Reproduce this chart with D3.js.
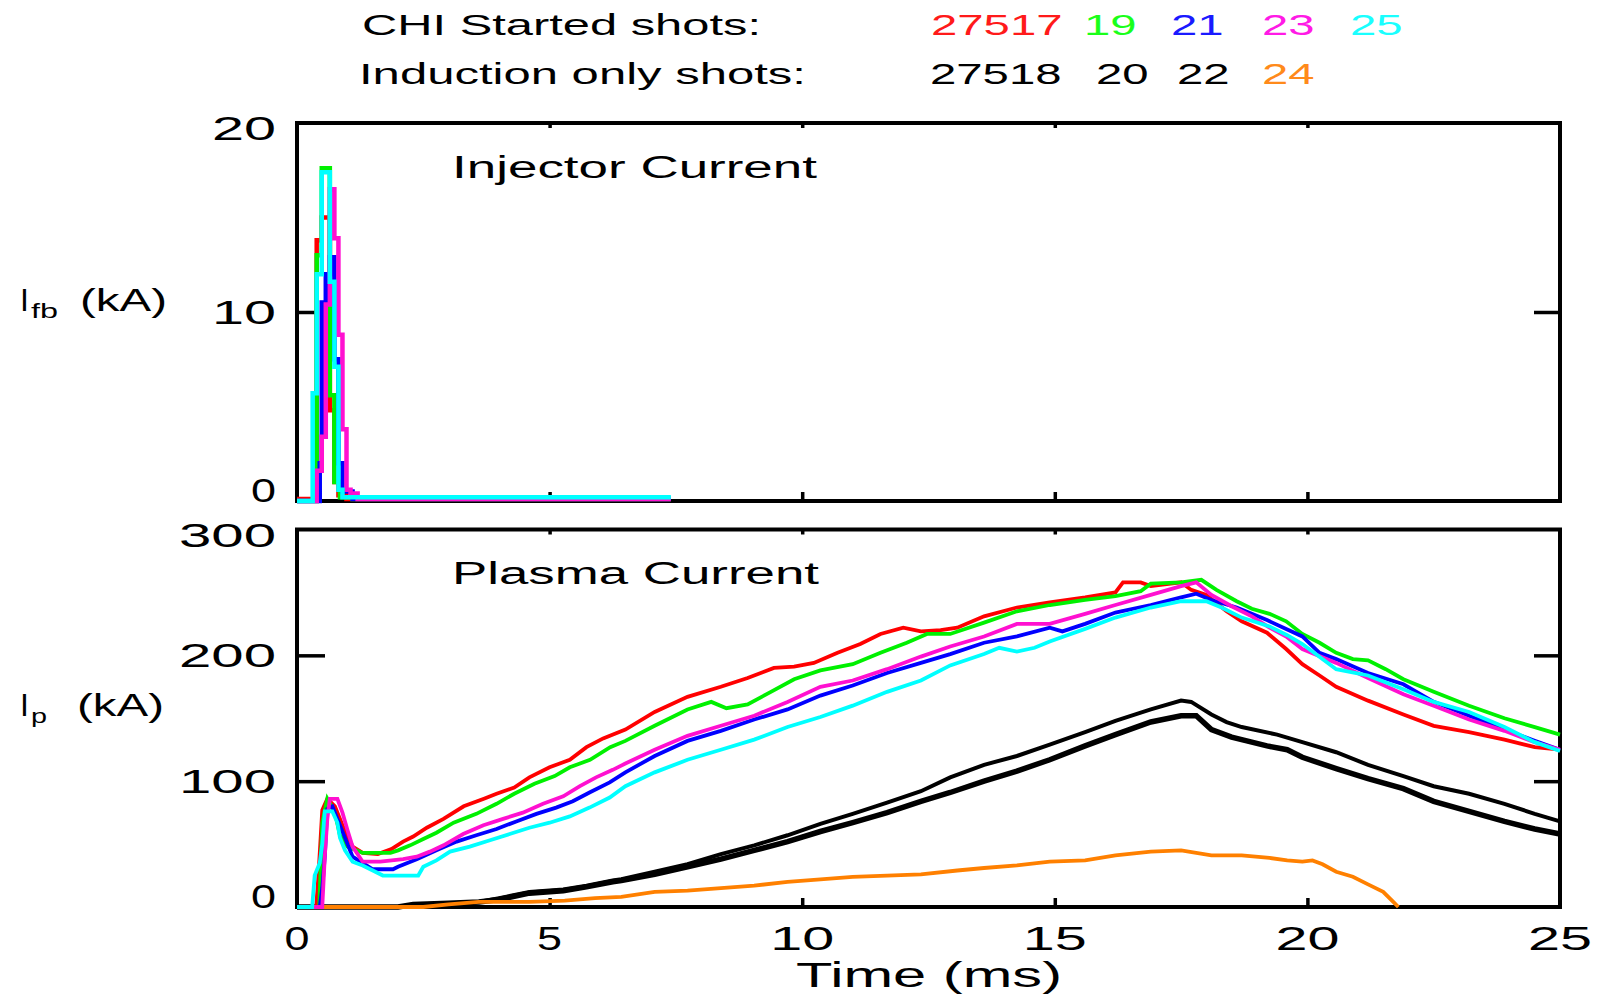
<!DOCTYPE html>
<html>
<head>
<meta charset="utf-8">
<script src="https://cdn.jsdelivr.net/npm/d3@7"></script>
<style>
  body { margin: 0; background: #fff; }
  svg text { font-family: 'Liberation Sans', Arial, Helvetica, sans-serif; fill: #000; }
</style>
</head>
<body>
<svg id="chart" width="1601" height="995"></svg>
<script>
// Shots shown in the legend
const chiShots = ['27517', '19', '21', '23', '25']
const chiColors = ['#ff1a1a', '#1aff1a', '#1a1aff', '#ff1ae6', '#1affff']
const inductionShots = ['27518', '20', '22', '24']
const inductionColors = ['#000', '#000', '#000', '#ff8a1a']

// Axis ticks
const timeTicks = [0, 5, 10, 15, 20, 25]
const injTicks = [0, 10, 20]
const ipTicks = [0, 100, 200, 300]

// Injector current (kA) vs time (ms), CHI shots
const injRedT = [0, 0.39, 0.49, 0.65, 0.74, 0.82, 0.98, 7.4]
const injRed = [0.1, 13.8, 15.0, 4.8, 1.0, 0.3, 0.1, 0.1]
const injGreenT = [0, 0.39, 0.49, 0.65, 0.74, 0.85, 1.1, 7.4]
const injGreen = [0, 13.0, 17.6, 5.6, 1.0, 0.2, 0.1, 0.1]
const injBlueT = [0, 0.45, 0.49, 0.57, 0.65, 0.74, 0.82, 0.9, 1.1, 7.4]
const injBlue = [0, 2, 10.5, 12, 12.9, 7.5, 2.0, 0.5, 0.1, 0.1]
const injMagentaT = [0, 0.39, 0.49, 0.57, 0.65, 0.74, 0.82, 0.9, 0.98, 1.06, 1.2, 7.4]
const injMagenta = [0, 1.6, 3.4, 10.4, 16.5, 13.9, 8.8, 3.8, 0.6, 0.4, 0.1, 0.1]
const injCyanT = [0, 0.31, 0.39, 0.49, 0.65, 0.74, 0.82, 0.9, 1.2, 7.4]
const injCyan = [0, 5.7, 12, 17.4, 11.6, 7.1, 0.6, 0.2, 0.2, 0.2]

// Plasma current (kA) vs time (ms)
const ipRedT = [0, 0.38, 0.42, 0.5, 0.6, 0.75, 0.9, 1.1, 1.3, 1.6, 1.87, 2.1, 2.3, 2.57, 2.9, 3.3, 3.7, 3.95, 4.3, 4.6, 5.0, 5.4, 5.73, 6.06, 6.5, 7.08, 7.73, 8.39, 8.92, 9.44, 9.84, 10.23, 10.7, 11.15, 11.55, 12.0, 12.35, 12.74, 13.07, 13.6, 14.25, 14.9, 15.6, 16.2, 16.35, 16.7, 16.9, 17.5, 17.7, 18.0, 18.4, 18.7, 19.2, 19.58, 19.9, 20.24, 20.57, 21.2, 21.9, 22.5, 23.2, 23.9, 24.5, 25]
const ipRed = [0, 0, 22, 77, 86, 80, 65, 48, 43, 42, 46, 52, 56, 63, 70, 80, 86, 90, 95, 103, 111, 117, 127, 134, 141, 155, 167, 175, 182, 190, 191, 194, 202, 209, 217, 222, 219, 220, 222, 231, 238, 242, 246, 250, 258, 258, 255, 258, 252, 248, 235, 227, 218, 205, 193, 184, 175, 164, 153, 144, 139, 133, 127, 125]
const ipGreenT = [0, 0.44, 0.5, 0.6, 0.75, 0.85, 1.0, 1.3, 1.85, 2.0, 2.24, 2.5, 2.76, 3.1, 3.55, 3.95, 4.3, 4.7, 5.1, 5.4, 5.8, 6.2, 6.5, 7.08, 7.73, 8.2, 8.5, 8.92, 9.38, 9.84, 10.36, 11.0, 11.55, 12.07, 12.47, 12.93, 13.6, 14.25, 14.9, 15.6, 16.2, 16.7, 16.9, 17.5, 17.9, 18.2, 18.6, 18.9, 19.25, 19.58, 19.9, 20.24, 20.57, 20.9, 21.2, 21.55, 21.9, 22.2, 22.5, 23.2, 23.9, 24.5, 25]
const ipGreen = [0, 0, 67, 86, 75, 57, 48, 43, 43, 45, 49, 54, 59, 67, 74, 82, 90, 98, 104, 111, 117, 127, 132, 144, 157, 163, 158, 161, 171, 181, 188, 193, 202, 210, 217, 217, 226, 235, 240, 244, 247, 251, 257, 258, 260, 252, 243, 237, 233, 227, 217, 210, 202, 197, 196, 189, 181, 176, 171, 160, 150, 143, 137]
const ipBlueT = [0, 0.45, 0.5, 0.55, 0.6, 0.7, 0.8, 0.95, 1.1, 1.5, 1.9, 2.0, 2.37, 2.76, 3.16, 3.55, 3.95, 4.34, 4.74, 5.13, 5.46, 5.79, 6.19, 6.5, 7.08, 7.73, 8.39, 9.05, 9.71, 10.36, 11.0, 11.68, 12.35, 12.93, 13.6, 14.25, 14.9, 15.15, 15.6, 16.2, 16.9, 17.5, 17.8, 18.1, 18.6, 19.2, 19.58, 19.9, 20.24, 20.57, 21.2, 21.9, 22.5, 23.2, 23.9, 24.5, 25]
const ipBlue = [0, 0, 15, 40, 78, 80, 70, 55, 40, 30, 30, 32, 38, 45, 52, 57, 62, 68, 74, 79, 84, 91, 99, 107, 120, 132, 140, 149, 157, 168, 176, 186, 194, 201, 210, 215, 222, 219, 225, 234, 240, 246, 249, 244, 238, 228, 221, 215, 202, 197, 186, 177, 163, 152, 141, 132, 125]
const ipMagentaT = [0, 0.5, 0.55, 0.6, 0.65, 0.8, 0.9, 1.0, 1.1, 1.3, 1.65, 2.1, 2.37, 2.63, 2.9, 3.29, 3.69, 4.08, 4.47, 4.87, 5.27, 5.6, 5.92, 6.25, 6.5, 7.08, 7.73, 8.39, 9.05, 9.71, 10.36, 11.0, 11.68, 12.35, 12.93, 13.6, 14.25, 14.9, 15.6, 16.2, 16.9, 17.5, 17.8, 18.1, 18.5, 18.9, 19.25, 19.58, 19.9, 20.57, 21.2, 21.9, 22.5, 23.2, 23.9, 24.5, 25]
const ipMagenta = [0, 0, 40, 70, 86, 86, 75, 61, 48, 36, 36, 38, 40, 44, 49, 58, 65, 70, 75, 82, 88, 96, 103, 109, 114, 125, 136, 144, 152, 163, 175, 180, 189, 199, 207, 215, 225, 225, 233, 240, 248, 255, 258, 248, 239, 231, 222, 215, 205, 194, 182, 169, 160, 149, 140, 131, 125]
const ipCyanT = [0, 0.3, 0.35, 0.45, 0.5, 0.55, 0.7, 0.8, 0.85, 0.95, 1.1, 1.3, 1.55, 1.7, 2.4, 2.5, 2.76, 3.03, 3.42, 3.82, 4.21, 4.6, 5.0, 5.4, 5.79, 6.19, 6.5, 7.08, 7.73, 8.39, 9.05, 9.71, 10.36, 11.0, 11.68, 12.35, 12.93, 13.6, 13.9, 14.25, 14.6, 14.9, 15.6, 16.2, 16.9, 17.5, 18.0, 18.3, 18.7, 19.25, 19.6, 19.9, 20.57, 21.2, 21.9, 22.5, 23.2, 23.9, 24.5, 25]
const ipCyan = [0, 0, 25, 35, 50, 76, 76, 67, 55, 45, 36, 33, 28, 25, 25, 32, 37, 44, 48, 53, 58, 63, 67, 72, 79, 87, 96, 107, 117, 125, 133, 143, 151, 160, 171, 180, 192, 201, 206, 203, 206, 211, 221, 230, 238, 243, 243, 238, 230, 223, 216, 209, 189, 184, 173, 163, 155, 143, 131, 124]
const ipBlackUpperT = [0, 2.0, 2.3, 3.0, 3.6, 4.0, 4.6, 5.27, 5.73, 6.25, 6.42, 7.08, 7.73, 8.39, 9.05, 9.71, 10.36, 11.0, 11.68, 12.35, 12.93, 13.6, 14.25, 14.9, 15.6, 16.2, 16.9, 17.5, 17.7, 18.1, 18.4, 18.7, 19.4, 19.9, 20.57, 21.2, 21.9, 22.5, 23.2, 23.9, 24.5, 25]
const ipBlackUpper = [0, 0, 2, 3, 4, 7, 12, 14, 17, 21, 22, 28, 34, 42, 49, 57, 66, 74, 83, 92, 103, 113, 120, 129, 139, 148, 157, 164, 163, 153, 147, 143, 137, 131, 123, 113, 104, 96, 90, 82, 74, 68]
const ipBlackLowerT = [0, 2.0, 2.3, 3.0, 3.6, 4.0, 4.6, 5.27, 5.73, 6.25, 6.42, 7.08, 7.73, 8.39, 9.05, 9.71, 10.36, 11.0, 11.68, 12.35, 12.93, 13.6, 14.25, 14.9, 15.6, 16.2, 16.9, 17.5, 17.8, 18.1, 18.5, 19.2, 19.6, 19.9, 20.57, 21.2, 21.9, 22.5, 23.2, 23.9, 24.5, 25]
const ipBlackLower = [0, 0, 2, 3, 4, 6, 11, 13, 16, 20, 21, 26, 32, 38, 45, 52, 60, 67, 75, 84, 91, 100, 108, 117, 128, 137, 147, 152, 152, 141, 135, 128, 125, 119, 110, 102, 94, 84, 76, 68, 62, 58]
const ipOrangeT = [0, 2.5, 3.0, 3.6, 4.6, 5.3, 5.9, 6.42, 7.08, 7.73, 8.39, 9.05, 9.71, 10.36, 11.0, 11.68, 12.35, 13.07, 13.6, 14.25, 14.9, 15.6, 16.2, 16.9, 17.5, 18.1, 18.7, 19.25, 19.6, 19.9, 20.1, 20.3, 20.57, 20.9, 21.2, 21.5, 21.7, 21.8]
const ipOrange = [0, 0, 2, 4, 4, 5, 7, 8, 12, 13, 15, 17, 20, 22, 24, 25, 26, 29, 31, 33, 36, 37, 41, 44, 45, 41, 41, 39, 37, 36, 37, 34, 28, 24, 18, 12, 4, 0]

const svg = d3.select('#chart')

// Shared time scale
const x = d3.scaleLinear().domain([0, 25]).range([297, 1560])

const panels = [
  {
    y: d3.scaleLinear().domain([0, 20]).range([501, 123]),
    ticks: injTicks, leftTick: 18, rightTick: 26,
    title: 'Injector Current', titleY: 178, titleLen: 365,
    curve: d3.curveStepAfter,
    series: [
      [injRedT, injRed, '#ff0000', 4.5],
      [injGreenT, injGreen, '#00f000', 4.5],
      [injBlueT, injBlue, '#0000ff', 4.5],
      [injMagentaT, injMagenta, '#ff10d0', 4.5],
      [injCyanT, injCyan, '#00ffff', 4.5]
    ]
  },
  {
    y: d3.scaleLinear().domain([0, 300]).range([907, 529.5]),
    ticks: ipTicks, leftTick: 28, rightTick: 26,
    title: 'Plasma Current', titleY: 584, titleLen: 367,
    curve: d3.curveLinear,
    series: [
      [ipBlackUpperT, ipBlackUpper, '#000', 4],
      [ipBlackLowerT, ipBlackLower, '#000', 5.5],
      [ipOrangeT, ipOrange, '#ff8000', 3.8],
      [ipRedT, ipRed, '#ff0000', 3.8],
      [ipGreenT, ipGreen, '#00f000', 3.8],
      [ipBlueT, ipBlue, '#0000ff', 3.8],
      [ipMagentaT, ipMagenta, '#ff10d0', 3.8],
      [ipCyanT, ipCyan, '#00ffff', 3.8]
    ]
  }
]

// Digit labels in the original are wide, so fix their length
const labelLen = s => ({ 1: 25, 2: 64, 3: 97 })[s.length] || s.length * 32

panels.forEach(p => {
  const [y0, y1] = p.y.range()
  const g = svg.append('g')

  // Frame
  g.append('rect')
    .attr('x', x(0)).attr('y', y1)
    .attr('width', x(25) - x(0)).attr('height', y0 - y1)
    .attr('fill', 'none').attr('stroke', '#000').attr('stroke-width', 4)

  // Inward ticks
  const inner = timeTicks.slice(1, -1)
  const axes = [
    [d3.axisBottom(x).tickValues(inner).tickSize(-9), `translate(0,${y0})`],
    [d3.axisTop(x).tickValues(inner).tickSize(-5), `translate(0,${y1})`],
    [d3.axisLeft(p.y).tickValues(p.ticks.slice(1, -1)).tickSize(-p.leftTick), `translate(${x(0)},0)`],
    [d3.axisRight(p.y).tickValues(p.ticks.slice(1, -1)).tickSize(-p.rightTick), `translate(${x(25)},0)`]
  ]
  axes.forEach(([axis, tr]) => {
    const a = g.append('g').attr('transform', tr).call(axis.tickFormat(''))
    a.select('.domain').remove()
    a.selectAll('line').attr('stroke', '#000').attr('stroke-width', 3.5)
  })

  // Y tick labels
  g.selectAll('text.ylab')
    .data(p.ticks)
    .join('text')
    .attr('class', 'ylab')
    .attr('x', 276)
    .attr('y', d => Math.max(y1 + 17, Math.min(y0 + 1, p.y(d) + 12)))
    .attr('text-anchor', 'end')
    .attr('font-size', 34)
    .attr('textLength', d => labelLen(String(d)))
    .attr('lengthAdjust', 'spacingAndGlyphs')
    .text(d => d)

  // Panel title
  g.append('text')
    .attr('x', 452).attr('y', p.titleY)
    .attr('font-size', 31)
    .attr('textLength', p.titleLen)
    .attr('lengthAdjust', 'spacingAndGlyphs')
    .text(p.title)

  // Curves
  const line = d3.line()
    .x(d => x(d[0]))
    .y(d => p.y(d[1]))
    .curve(p.curve)

  p.series.forEach(([t, v, color, w]) => {
    g.append('path')
      .datum(d3.zip(t, v))
      .attr('d', line)
      .attr('fill', 'none')
      .attr('stroke', color)
      .attr('stroke-width', w)
      .attr('stroke-linejoin', 'miter')
  })
})

// X tick labels and title
svg.selectAll('text.xlab')
  .data(timeTicks)
  .join('text')
  .attr('class', 'xlab')
  .attr('x', d => x(d))
  .attr('y', 950)
  .attr('text-anchor', 'middle')
  .attr('font-size', 34)
  .attr('textLength', d => labelLen(String(d)))
  .attr('lengthAdjust', 'spacingAndGlyphs')
  .text(d => d)

svg.append('text')
  .attr('x', 929).attr('y', 987)
  .attr('text-anchor', 'middle')
  .attr('font-size', 35)
  .attr('textLength', 266)
  .attr('lengthAdjust', 'spacingAndGlyphs')
  .text('Time (ms)')

// Y axis titles with subscripts
const yTitle = (sub, yb, subLen, unitX) => {
  const t = svg.append('text').attr('y', yb).attr('font-size', 32)
  t.append('tspan').attr('x', 20).text('I')
  t.append('tspan').attr('x', 31).attr('dy', 7).attr('font-size', 21)
    .attr('textLength', subLen).attr('lengthAdjust', 'spacingAndGlyphs').text(sub)
  t.append('tspan').attr('x', unitX).attr('dy', -7)
    .attr('textLength', 87).attr('lengthAdjust', 'spacingAndGlyphs').text('(kA)')
}
yTitle('fb', 311, 27, 80)
yTitle('p', 716, 16, 77)

// Legend rows
const legendRows = [
  { label: 'CHI Started shots:', x: 362, y: 35, len: 399, shots: chiShots, colors: chiColors, xs: [931, 1084, 1171, 1262, 1350] },
  { label: 'Induction only shots:', x: 359, y: 84, len: 447, shots: inductionShots, colors: inductionColors, xs: [930, 1096, 1177, 1262] }
]
legendRows.forEach(r => {
  svg.append('text')
    .attr('x', r.x).attr('y', r.y)
    .attr('font-size', 29)
    .attr('textLength', r.len)
    .attr('lengthAdjust', 'spacingAndGlyphs')
    .text(r.label)
  svg.selectAll(null)
    .data(r.shots)
    .join('text')
    .attr('x', (d, i) => r.xs[i])
    .attr('y', r.y)
    .attr('font-size', 29)
    .attr('textLength', d => d.length * 26.3)
    .attr('lengthAdjust', 'spacingAndGlyphs')
    .style('fill', (d, i) => r.colors[i])
    .text(d => d)
})
</script>
</body>
</html>
